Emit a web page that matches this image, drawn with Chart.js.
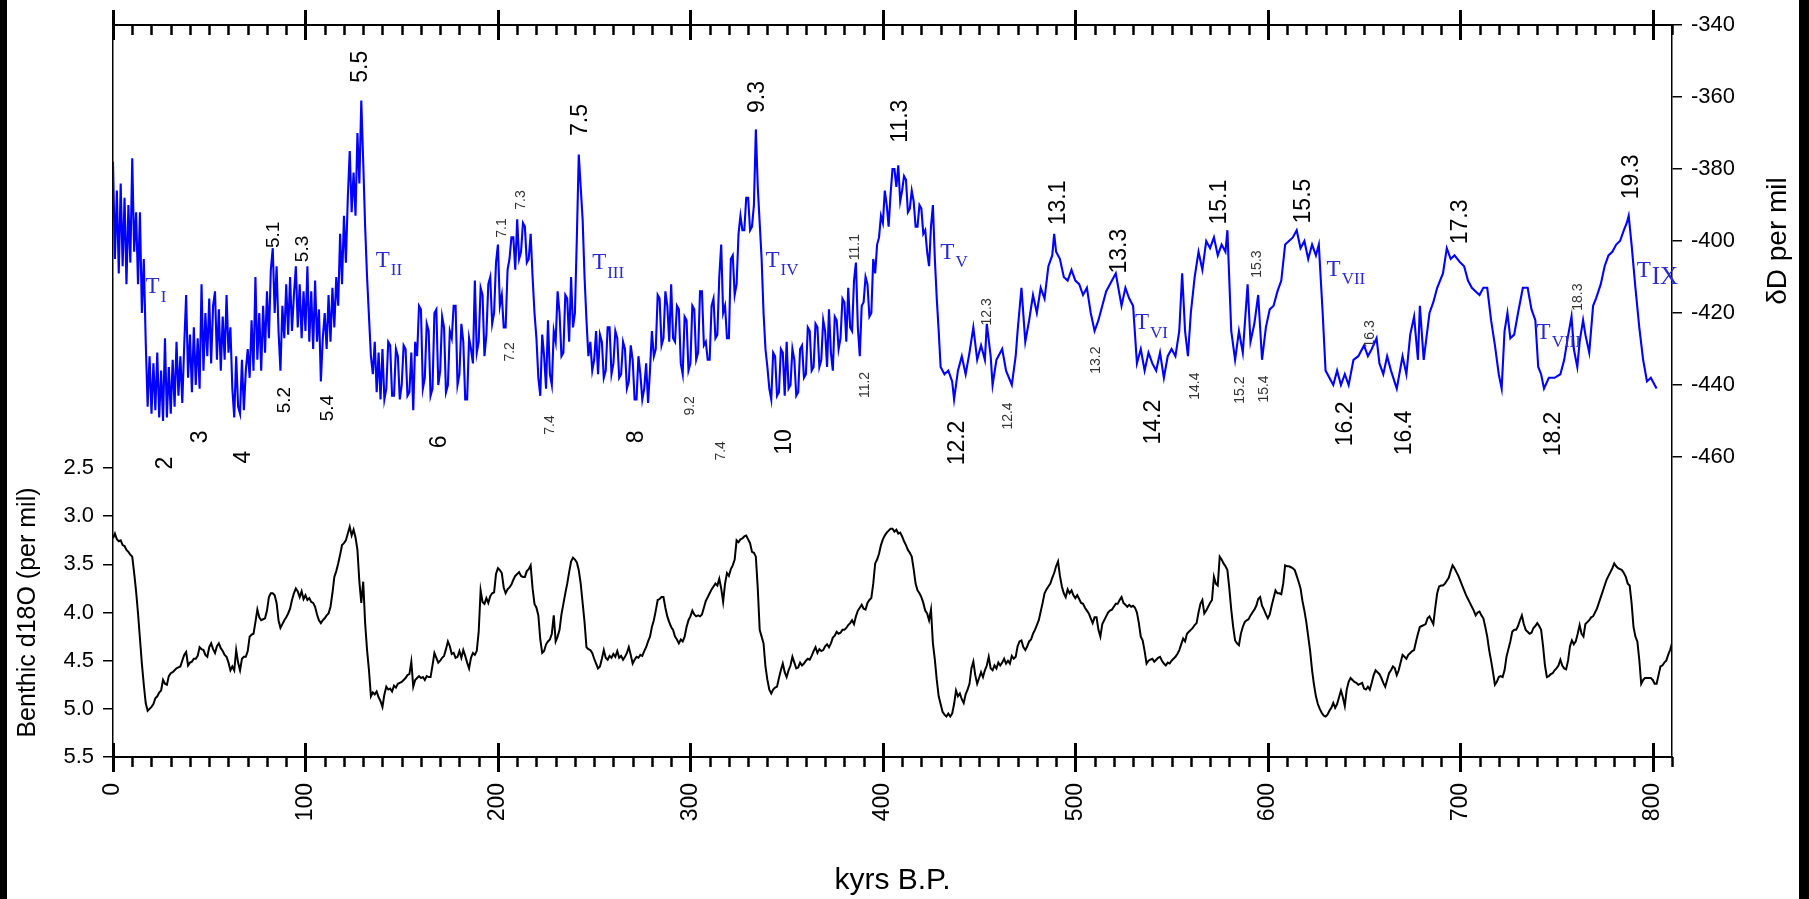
<!DOCTYPE html>
<html>
<head>
<meta charset="utf-8">
<script src="https://cdn.jsdelivr.net/npm/chart.js@4.4.1/dist/chart.umd.min.js"></script>
<style>
  html, body { margin: 0; padding: 0; background: #fff; width: 1809px; height: 899px; overflow: hidden; }
  .edge { position: absolute; top: 0; height: 899px; background: #000; }
  #c { position: absolute; left: 7px; top: 0; background: #fff; }
</style>
</head>
<body>
<div class="edge" style="left:0;width:7px"></div>
<canvas id="c" width="1792" height="899"></canvas>
<div class="edge" style="left:1799px;width:10px"></div>
<script>
// axis ticks
var xTicks = [0, 100, 200, 300, 400, 500, 600, 700, 800];
var dDTicks = [-460, -440, -420, -400, -380, -360, -340];
var benthicTicks = [2.5, 3.0, 3.5, 4.0, 4.5, 5.0, 5.5];

// EPICA Dome C deuterium, age in kyr B.P.
var dDAge = [
  0,1,2,3,4,5,6,7,8,9,10,11,12,13,14,15,16,17,18,19,
  20,21,22,23,24,25,26,27,28,29,30,31,32,33,34,35,36,37,38,39,
  40,41,42,43,44,45,46,47,48,49,50,51,52,53,54,55,56,57,58,59,
  60,61,62,63,64,65,66,67,68,69,70,71,72,73,74,75,76,77,78,79,
  80,81,82,83,84,85,86,87,88,89,90,91,92,93,94,95,96,97,98,99,
  100,101,102,103,104,105,106,107,108,109,110,111,112,113,114,115,116,117,118,119,
  120,121,122,123,124,125,126,127,128,129,130,131,132,133,134,135,136,137,138,139,
  140,141,142,143,144,145,146,147,148,149,150,151,152,153,154,155,156,157,158,159,
  160,161,162,163,164,165,166,167,168,169,170,171,172,173,174,175,176,177,178,179,
  180,181,182,183,184,185,186,187,188,189,190,191,192,193,194,195,196,197,198,199,
  200,201,202,203,204,205,206,207,208,209,210,211,212,213,214,215,216,217,218,219,
  220,221,222,223,224,225,226,227,228,229,230,231,232,233,234,235,236,237,238,239,
  240,241,242,243,244,245,246,247,248,249,250,251,252,253,254,255,256,257,258,259,
  260,261,262,263,264,265,266,267,268,269,270,271,272,273,274,275,276,277,278,279,
  280,281,282,283,284,285,286,287,288,289,290,291,292,293,294,295,296,297,298,299,
  300,301,302,303,304,305,306,307,308,309,310,311,312,313,314,315,316,317,318,319,
  320,321,322,323,324,325,326,327,328,329,330,331,332,333,334,335,336,337,338,339,
  340,341,342,343,344,345,346,347,348,349,350,351,352,353,354,355,356,357,358,359,
  360,361,362,363,364,365,366,367,368,369,370,371,372,373,374,375,376,377,378,379,
  380,381,382,383,384,385,386,387,388,389,390,391,392,393,394,395,396,397,398,399,
  400,401,402,403,404,405,406,407,408,409,410,411,412,413,414,415,416,417,418,419,
  420,421,422,423,424,425,426,427,428,429,430,
  432,434,436,437,439,441,443,445,447,449, 451,453,454,456,457,459,462,464,467,469,
  470,472,474,476,478,480,482,484,486,488, 489,490,492,494,496,498,500,502,504,506,
  508,510,512,514,516,518,520,521,523,524, 526,528,530,532,534,536,538,540,542,544,
  546,548,550,552,554,555.5,557,558.5,560,562, 564,566,568,570,572,574,576,578,579,581,
  583,585,587,589.5,591,593,595,597,599,601, 603,605,607,609,611,613,615,617,619,621,
  623,625,626.5,628.5,630,632,634,636,638,640, 642,644.5,647,650,652,654,656.5,658,660,662,
  664,667,670,672,674,676,678,679,681,684, 686,688,691,693,695,697,700,702,704,706,
  708,710,712,714,716,718,720,721.5,723,724.5, 726,728,730,732.5,735,737,739,740.5,742,743.5,
  746,749,752,754,755.8,757.8,759,760.8,762,763.8, 765,767,769,770.5,773,775,777,779,781,783,
  785,786.5,787.5,789,791,793,795,797,799,801, 802
];
var dDValue = [
  -378,-405,-386,-409,-384,-407,-388,-412,-390,-406, -377,-403,-392,-412,-392,-420,-405,-428,-446,-432,
  -448,-434,-447,-431,-449,-436,-450,-427,-449,-435, -448,-433,-446,-428,-443,-432,-445,-429,-415,-438,
  -426,-442,-424,-440,-427,-441,-412,-436,-420,-432, -416,-434,-418,-414,-433,-419,-436,-421,-433,-415,
  -431,-424,-441,-449,-432,-446,-448,-433,-447,-436, -430,-438,-422,-436,-410,-433,-420,-436,-418,-431,
  -414,-427,-408,-402,-420,-407,-425,-436,-418,-427, -412,-426,-410,-425,-415,-407,-424,-412,-427,-414,
  -425,-407,-428,-414,-430,-411,-428,-419,-439,-427, -420,-430,-415,-428,-413,-424,-410,-418,-398,-412,
  -393,-406,-388,-375,-392,-381,-393,-370,-384,-361, -378,-396,-410,-421,-432,-437,-428,-442,-431,-444,
  -430,
  -444,-441,-428,-429,-443,-443,-430,-432,-444,-440,
  -429,-430,-443,-442,-431,-447,-428,-432,-418,-419,
  -441,-438,-423,-425,-443,-441,-420,-419,-440,-436,
  -421,-424,-442,-440,-425,-427,-418,-418,-440,-437,
  -423,-428,-444,-444,-427,-430,-434,-411,-431,-428,
  -413,-415,-432,-426,-412,-410,-423,-420,-406,-401,
  -418,-415,-424,-424,-408,-405,-399,-399,-408,-394,
  -405,-403,-395,-396,-406,-405,-398,-410,-420,-427,
  -438,-443,-426,-432,-441,-422,-437,-440,-425,-428,
  -414,-420,-432,-431,-415,-416,-428,-410,-424,-420,
  -399,-376,-385,-394,-410,-422,-432,-428,-436,-433,
  -425,-437,-426,-428,-438,-436,-424,-424,-437,-434,
  -425,-427,-438,-437,-428,-430,-441,-439,-429,-433,
  -444,-444,-432,-437,-444,-441,-434,-445,-436,-425,
  -432,-430,-415,-416,-429,-427,-414,-418,-428,-412,
  -427,-428,-418,-419,-434,-437,-421,-422,-436,-434,
  -418,-419,-433,-431,-414,-414,-429,-428,-433,-433,
  -418,-416,-427,-426,-410,-401,-420,-418,-427,-427,
  -405,-404,-415,-412,-398,-393,-397,-397,-388,-388,
  -397,-396,-390,-369,-385,-395,-405,-420,-430,-435,
  -441,-444,-431,-432,-443,-442,-430,-431,-443,-428,
  -441,-440,-430,-433,-443,-442,-430,-429,-438,-437,
  -424,-425,-436,-435,-423,-424,-435,-433,-422,-425,
  -435,-419,-431,-436,-421,-422,-430,-427,-416,-417,
  -428,-413,-424,-425,-411,-406,-424,-432,-418,-417,
  -410,-412,-421,-420,-405,-409,-401,-399,-393,-395,
  -386,-390,-396,-387,-380,-380,-385,-379,-389,-386,
  -382,-383,-392,-391,-386,-389,-396,-396,-390,-391,
  -398,-397,-403,-407,-396,-390,-405,-416,-425,-435,
  -437,-436,-439,-444,-436,-432,-437,-431,-424,-433, -429,-433,-423,-432,-440,-433,-430,-436,-440,-432,
  -425,-413,-428,-422,-415,-420,-413,-416,-407,-404, -398,-403,-405,-410,-411,-408,-411,-412,-415,-413,
  -420,-425,-422,-418,-414,-412,-410,-409,-415,-418, -413,-416,-418,-434,-430,-436,-431,-434,-436,-431,
  -438,-432,-430,-432,-425,-409,-425,-432,-420,-410, -403,-408,-400,-402,-399,-404,-401,-403,-397,-425,
  -433,-425,-431,-412,-428,-423,-415,-433,-424,-419, -418,-414,-411,-401,-400,-399,-397,-402,-400,-405,
  -401,-404,-401,-420,-436,-438,-440,-436,-440,-437, -440,-433,-432,-429,-432,-430,-427,-434,-437,-432,
  -436,-441,-432,-437,-426,-421,-433,-418,-433,-420, -417,-413,-409,-402,-405,-404,-406,-407,-411,-413,
  -414,-415,-413,-413,-422,-429,-437,-441,-425,-420, -427,-426,-420,-413,-413,-419,-422,-435,-437,-441,
  -438,-438,-437,-433,-427,-421,-430,-435,-428,-422, -426,-431,-418,-416,-412,-407,-404,-403,-401,-400,
  -397,-395,-393,-401,-413,-424,-433,-439,-438,-440, -441
];

// benthic d18O stack, one value per kyr from 0 to 810 kyr B.P.
var benthicD18O = [
  3.23,3.18,3.24,3.26,3.25,3.30,3.31,3.35,3.37,3.40, 3.42,3.59,3.78,4.01,4.27,4.53,4.75,4.94,5.02,5.00,
  4.98,4.95,4.89,4.87,4.83,4.81,4.70,4.74,4.75,4.66, 4.63,4.62,4.60,4.58,4.57,4.56,4.50,4.44,4.41,4.55,
  4.52,4.51,4.48,4.48,4.45,4.36,4.38,4.39,4.44,4.46, 4.36,4.32,4.38,4.42,4.35,4.32,4.37,4.40,4.44,4.46,
  4.52,4.60,4.56,4.60,4.39,4.52,4.60,4.48,4.46,4.46, 4.40,4.25,4.23,4.22,4.10,3.97,4.05,4.08,4.07,4.06,
  3.98,3.84,3.80,3.80,3.82,3.90,4.08,4.16,4.12,4.08, 4.05,4.01,3.96,3.87,3.80,3.75,3.78,3.84,3.78,3.86,
  3.82,3.87,3.85,3.89,3.90,3.94,4.02,4.08,4.11,4.08, 4.06,4.03,4.01,3.94,3.80,3.63,3.57,3.49,3.40,3.30,
  3.28,3.25,3.18,3.11,3.20,3.14,3.22,3.35,3.68,3.90, 3.68,4.11,4.39,4.60,4.87,4.83,4.85,4.82,4.88,4.92,
  4.98,4.85,4.77,4.80,4.79,4.82,4.76,4.78,4.74,4.73, 4.72,4.70,4.68,4.65,4.64,4.51,4.77,4.70,4.68,4.66,
  4.68,4.67,4.70,4.66,4.67,4.67,4.55,4.42,4.47,4.52, 4.50,4.47,4.45,4.38,4.30,4.35,4.43,4.42,4.47,4.46,
  4.40,4.47,4.39,4.45,4.52,4.58,4.47,4.42,4.44,4.40, 4.20,3.77,3.89,3.91,3.85,3.90,3.83,3.80,3.79,3.60,
  3.54,3.56,3.59,3.74,3.80,3.76,3.74,3.71,3.66,3.62, 3.60,3.58,3.62,3.63,3.63,3.57,3.55,3.51,3.75,3.91,
  3.95,4.03,4.28,4.42,4.40,4.33,4.30,4.28,4.22,4.03, 4.30,4.25,4.18,4.02,3.91,3.80,3.70,3.58,3.47,3.43,
  3.45,3.48,3.56,3.70,3.90,4.10,4.36,4.38,4.39,4.42, 4.48,4.53,4.58,4.56,4.48,4.39,4.47,4.49,4.45,4.47,
  4.43,4.46,4.40,4.47,4.45,4.49,4.46,4.42,4.36,4.44, 4.53,4.49,4.46,4.47,4.44,4.45,4.40,4.36,4.30,4.25,
  4.15,4.08,3.98,3.87,3.86,3.84,3.84,3.95,4.04,4.10, 4.15,4.18,4.25,4.28,4.32,4.28,4.30,4.25,4.15,4.08,
  4.04,3.98,4.02,4.04,4.03,4.04,4.02,3.95,3.88,3.84, 3.80,3.76,3.73,3.70,3.72,3.65,3.75,3.89,3.70,3.59,
  3.62,3.55,3.51,3.45,3.25,3.27,3.24,3.23,3.21,3.20, 3.24,3.28,3.37,3.38,3.42,3.75,4.18,4.25,4.32,4.56,
  4.70,4.80,4.84,4.80,4.78,4.77,4.68,4.60,4.53,4.62, 4.67,4.60,4.55,4.46,4.52,4.58,4.57,4.52,4.55,4.53,
  4.50,4.48,4.49,4.45,4.40,4.36,4.42,4.38,4.40,4.39, 4.35,4.33,4.36,4.32,4.26,4.24,4.20,4.22,4.21,4.18,
  4.18,4.16,4.13,4.11,4.08,4.12,4.04,3.98,3.95,3.92, 3.96,3.97,3.90,3.87,3.85,3.70,3.49,3.45,3.39,3.30,
  3.24,3.20,3.17,3.15,3.13,3.13,3.16,3.14,3.18,3.17, 3.21,3.26,3.30,3.35,3.38,3.42,3.55,3.70,3.77,3.80,
  3.84,3.90,3.98,4.01,4.08,3.97,4.32,4.49,4.70,4.87, 4.95,5.03,5.06,5.08,5.05,5.08,5.05,4.95,4.81,4.87,
  4.84,4.90,4.94,4.85,4.80,4.74,4.58,4.51,4.65,4.74, 4.68,4.62,4.67,4.60,4.55,4.46,4.58,4.60,4.55,4.58,
  4.52,4.55,4.52,4.48,4.53,4.50,4.53,4.45,4.48,4.46, 4.35,4.30,4.29,4.36,4.39,4.35,4.30,4.28,4.22,4.18,
  4.13,4.08,3.99,3.90,3.80,3.76,3.73,3.70,3.64,3.59, 3.52,3.47,3.62,3.73,3.80,3.84,3.76,3.80,3.77,3.82,
  3.85,3.82,3.86,3.90,3.91,3.95,3.98,4.01,4.06,4.11, 4.05,4.05,4.18,4.25,4.12,4.08,4.04,4.00,3.98,3.97,
  3.94,3.91,3.91,3.87,3.84,3.90,3.92,3.94,3.92,3.94, 3.93,3.95,4.00,4.11,4.25,4.29,4.40,4.53,4.50,4.49,
  4.48,4.51,4.49,4.47,4.46,4.50,4.53,4.55,4.52,4.53, 4.50,4.48,4.46,4.43,4.39,4.33,4.27,4.30,4.22,4.20,
  4.18,4.16,4.13,4.11,4.00,3.91,3.87,4.01,3.98,3.94, 3.90,3.87,3.63,3.70,3.72,3.42,3.45,3.49,3.52,3.56,
  3.75,3.97,4.15,4.29,4.32,4.34,4.22,4.15,4.10,4.08, 4.07,4.03,4.00,3.97,3.93,3.86,3.84,3.93,3.97,4.02,
  4.06,4.02,3.93,3.85,3.77,3.80,3.80,3.81,3.70,3.51, 3.52,3.52,3.53,3.54,3.56,3.62,3.68,3.75,3.88,3.98,
  4.10,4.25,4.40,4.60,4.75,4.87,4.95,5.00,5.04,5.07, 5.08,5.06,5.02,4.99,4.94,4.99,4.95,4.88,4.81,4.88,
  4.97,4.80,4.72,4.68,4.70,4.72,4.73,4.75,4.74,4.73, 4.79,4.80,4.77,4.80,4.73,4.65,4.60,4.62,4.64,4.68,
  4.73,4.77,4.70,4.63,4.60,4.56,4.58,4.65,4.60,4.52, 4.44,4.46,4.48,4.44,4.42,4.40,4.39,4.30,4.22,4.15,
  4.14,4.13,4.12,4.06,4.04,4.08,4.12,3.95,3.80,3.73, 3.72,3.72,3.70,3.67,3.64,3.57,3.51,3.54,3.58,3.62,
  3.67,3.72,3.77,3.82,3.86,3.90,3.94,3.98,4.03,4.00, 3.99,4.03,4.06,4.15,4.25,4.39,4.50,4.62,4.75,4.72,
  4.67,4.66,4.67,4.60,4.46,4.38,4.30,4.20,4.18,4.18, 4.14,4.08,4.03,4.12,4.18,4.20,4.22,4.21,4.16,4.14,
  4.11,4.14,4.18,4.35,4.55,4.67,4.66,4.64,4.63,4.60, 4.58,4.55,4.49,4.55,4.58,4.59,4.50,4.35,4.29,4.33,
  4.30,4.22,4.13,4.22,4.25,4.12,4.10,4.08,4.05,4.04, 4.00,3.96,3.90,3.84,3.78,3.72,3.66,3.62,3.58,3.54,
  3.49,3.52,3.54,3.55,3.56,3.59,3.63,3.70,3.72,3.90, 4.15,4.25,4.30,4.49,4.74,4.70,4.68,4.68,4.68,4.68,
  4.70,4.74,4.74,4.65,4.56,4.55,4.52,4.50,4.44,4.39, 4.32
];

// marine isotope stage labels, placed at (age, δD)
var stageLabels = [
  {t: '5.5', age: 128.7, dD: -351.6, k: 'big'},
  {t: '7.5', age: 243.1, dD: -366.4, k: 'big'},
  {t: '9.3', age: 335.0, dD: -360.0, k: 'big'},
  {t: '11.3', age: 409.4, dD: -366.7, k: 'big'},
  {t: '13.1', age: 491.2, dD: -389.4, k: 'big'},
  {t: '13.3', age: 522.9, dD: -402.8, k: 'big'},
  {t: '15.1', age: 574.9, dD: -389.2, k: 'big'},
  {t: '15.5', age: 618.6, dD: -388.9, k: 'big'},
  {t: '17.3', age: 700.1, dD: -394.7, k: 'big'},
  {t: '19.3', age: 789.0, dD: -382.2, k: 'big'},
  {t: '2', age: 27.6, dD: -461.7, k: 'big'},
  {t: '3', age: 45.8, dD: -454.4, k: 'big'},
  {t: '4', age: 68.1, dD: -460.0, k: 'big'},
  {t: '6', age: 169.5, dD: -455.8, k: 'big'},
  {t: '8', age: 271.9, dD: -454.4, k: 'big'},
  {t: '10', age: 348.8, dD: -455.8, k: 'big'},
  {t: '12.2', age: 438.7, dD: -456.1, k: 'big'},
  {t: '14.2', age: 540.6, dD: -450.3, k: 'big'},
  {t: '16.2', age: 640.4, dD: -450.8, k: 'big'},
  {t: '16.4', age: 671.1, dD: -453.3, k: 'big'},
  {t: '18.2', age: 748.5, dD: -453.6, k: 'big'},
  {t: '5.1', age: 83.5, dD: -398.3, k: 'mid'},
  {t: '5.3', age: 98.6, dD: -402.2, k: 'mid'},
  {t: '5.2', age: 89.4, dD: -444.2, k: 'mid'},
  {t: '5.4', age: 111.8, dD: -446.4, k: 'mid'},
  {t: '7.1', age: 202.2, dD: -396.4, k: 'small'},
  {t: '7.3', age: 212.1, dD: -388.6, k: 'small'},
  {t: '7.2', age: 206.1, dD: -430.8, k: 'small'},
  {t: '7.4', age: 227.2, dD: -451.1, k: 'small'},
  {t: '9.2', age: 300.0, dD: -445.8, k: 'small'},
  {t: '7.4', age: 316.1, dD: -458.3, k: 'small'},
  {t: '11.1', age: 385.7, dD: -401.7, k: 'small'},
  {t: '11.2', age: 390.9, dD: -440.0, k: 'small'},
  {t: '12.3', age: 454.3, dD: -419.7, k: 'small'},
  {t: '12.4', age: 465.2, dD: -448.6, k: 'small'},
  {t: '13.2', age: 511.0, dD: -433.1, k: 'small'},
  {t: '14.4', age: 562.4, dD: -440.3, k: 'small'},
  {t: '15.2', age: 585.8, dD: -441.4, k: 'small'},
  {t: '15.3', age: 594.7, dD: -406.4, k: 'small'},
  {t: '15.4', age: 598.3, dD: -441.1, k: 'small'},
  {t: '16.3', age: 653.4, dD: -425.8, k: 'small'},
  {t: '18.3', age: 761.0, dD: -415.6, k: 'small'}
];

// glacial terminations T I ... T IX
var terminations = [
  {n: 'I', age: 20.6, dD: -412.4},
  {n: 'II', age: 140.2, dD: -405.0},
  {n: 'III', age: 252.6, dD: -405.8},
  {n: 'IV', age: 342.7, dD: -405.0},
  {n: 'V', age: 433.5, dD: -402.8},
  {n: 'VI', age: 534.6, dD: -422.4},
  {n: 'VII', age: 634.2, dD: -407.5},
  {n: 'VIII', age: 743.3, dD: -425.1},
  {n: 'IX', age: 795.3, dD: -407.9}
];

var sans = '"Liberation Sans", Arial, sans-serif';
var serif = '"Liberation Serif", "Times New Roman", serif';
var labelStyle = {
  big: {font: '23px ' + sans, color: '#000'},
  mid: {font: '19px ' + sans, color: '#000'},
  small: {font: '14px ' + sans, color: '#333'}
};

var decor = {
  id: 'decor',
  afterDatasetsDraw: function(chart) {
    var ctx = chart.ctx, x = chart.scales.x, yD = chart.scales.yD;
    ctx.save();
    stageLabels.forEach(function(l) {
      var st = labelStyle[l.k];
      ctx.save();
      ctx.translate(x.getPixelForValue(l.age), yD.getPixelForValue(l.dD));
      ctx.rotate(-Math.PI / 2);
      ctx.font = st.font;
      ctx.fillStyle = st.color;
      ctx.textAlign = 'center';
      ctx.textBaseline = 'middle';
      ctx.fillText(l.t, 0, 0);
      ctx.restore();
    });
    terminations.forEach(function(t) {
      var px = x.getPixelForValue(t.age), py = yD.getPixelForValue(t.dD);
      ctx.fillStyle = '#2a2ad0';
      ctx.font = '23px ' + serif;
      ctx.textAlign = 'center';
      ctx.textBaseline = 'alphabetic';
      ctx.fillText('T', px, py + 7.6);
      var half = ctx.measureText('T').width / 2;
      var big = t.n === 'IX';
      ctx.font = (big ? 25 : 17) + 'px ' + serif;
      ctx.textAlign = 'left';
      ctx.fillText(t.n, px + half + 1, py + (big ? 15 : 16));
    });
    ctx.restore();
  },
  afterDraw: function(chart) {
    var ctx = chart.ctx, a = chart.chartArea;
    var x = chart.scales.x, yD = chart.scales.yD, yO = chart.scales.yO;
    ctx.save();
    ctx.strokeStyle = '#000';
    // tick marks on top and bottom axes, minor every 10 kyr
    for (var v = 0; v <= 810; v += 10) {
      var px = Math.round(x.getPixelForValue(v)) + 0.5;
      var major = v % 100 === 0;
      ctx.lineWidth = major ? 3 : 2.5;
      ctx.beginPath();
      if (major) {
        ctx.moveTo(px, a.top - 15); ctx.lineTo(px, a.top + 15);
        ctx.moveTo(px, a.bottom - 14); ctx.lineTo(px, a.bottom + 15);
      } else {
        ctx.moveTo(px, a.top); ctx.lineTo(px, a.top + 10);
        ctx.moveTo(px, a.bottom); ctx.lineTo(px, a.bottom + 10);
      }
      ctx.stroke();
    }
    // axis titles
    ctx.fillStyle = '#000';
    ctx.textAlign = 'center';
    ctx.textBaseline = 'middle';
    ctx.save();
    ctx.translate(a.left - 85, yO.getPixelForValue(4.0));
    ctx.rotate(-Math.PI / 2);
    ctx.font = '25px ' + sans;
    ctx.fillText('Benthic d18O (per mil)', 0, 0);
    ctx.restore();
    ctx.save();
    ctx.translate(a.right + 106, yD.getPixelForValue(-400));
    ctx.rotate(-Math.PI / 2);
    ctx.font = '28px ' + sans;
    ctx.fillText('\u03B4D per mil', 0, 0);
    ctx.restore();
    ctx.restore();
  }
};

var ctx = document.getElementById('c').getContext('2d');
var chart = new Chart(ctx, {
  type: 'line',
  data: {
    datasets: [{
      label: 'δD',
      data: dDAge.map(function(a, i) { return {x: a, y: dDValue[i]}; }),
      xAxisID: 'x',
      yAxisID: 'yD',
      borderColor: '#0000ff',
      borderWidth: 2.1,
      pointRadius: 0,
      tension: 0
    }, {
      label: 'Benthic d18O',
      data: benthicD18O.map(function(v, i) { return {x: i, y: v}; }),
      xAxisID: 'x',
      yAxisID: 'yO',
      borderColor: '#000',
      borderWidth: 2,
      pointRadius: 0,
      tension: 0
    }]
  },
  options: {
    responsive: false,
    animation: false,
    events: [],
    layout: {padding: 0},
    plugins: {legend: {display: false}, tooltip: {enabled: false}},
    scales: {
      x: {
        type: 'linear', position: 'bottom', min: 0, max: 810,
        afterBuildTicks: function(s) { s.ticks = xTicks.map(function(v) { return {value: v}; }); },
        afterFit: function(s) { s.height = 142; },
        grid: {display: false, drawTicks: false},
        border: {display: true, color: '#000', width: 2},
        ticks: {autoSkip: false, minRotation: 90, maxRotation: 90, padding: 26, color: '#000', font: {family: sans, size: 23}},
        title: {display: true, text: 'kyrs B.P.', color: '#000', font: {family: sans, size: 30}, padding: {top: 0, bottom: 0}}
      },
      xTop: {
        type: 'linear', position: 'top', min: 0, max: 810,
        afterFit: function(s) { s.height = 25; },
        grid: {display: false, drawTicks: false},
        border: {display: true, color: '#000', width: 2},
        ticks: {display: false}
      },
      yD: {
        type: 'linear', position: 'right', min: -543.33, max: -340,
        afterBuildTicks: function(s) { s.ticks = dDTicks.map(function(v) { return {value: v}; }); },
        afterFit: function(s) { s.width = 127; },
        grid: {display: true, drawOnChartArea: false, drawTicks: true, tickLength: 10, color: '#000', lineWidth: 1.5},
        border: {display: true, color: '#000', width: 1.5},
        ticks: {padding: 9, color: '#000', font: {family: sans, size: 22}, callback: function(v) { return String(v); }}
      },
      yO: {
        type: 'linear', position: 'left', reverse: true, min: -2.1, max: 5.5,
        afterBuildTicks: function(s) { s.ticks = benthicTicks.map(function(v) { return {value: v}; }); },
        afterFit: function(s) { s.width = 106; },
        grid: {display: true, drawOnChartArea: false, drawTicks: true, tickLength: 10, color: '#000', lineWidth: 1.5},
        border: {display: true, color: '#000', width: 1.5},
        ticks: {padding: 9, color: '#000', font: {family: sans, size: 22}, callback: function(v) { return Number(v).toFixed(1); }}
      }
    }
  },
  plugins: [decor]
});
</script>
</body>
</html>
